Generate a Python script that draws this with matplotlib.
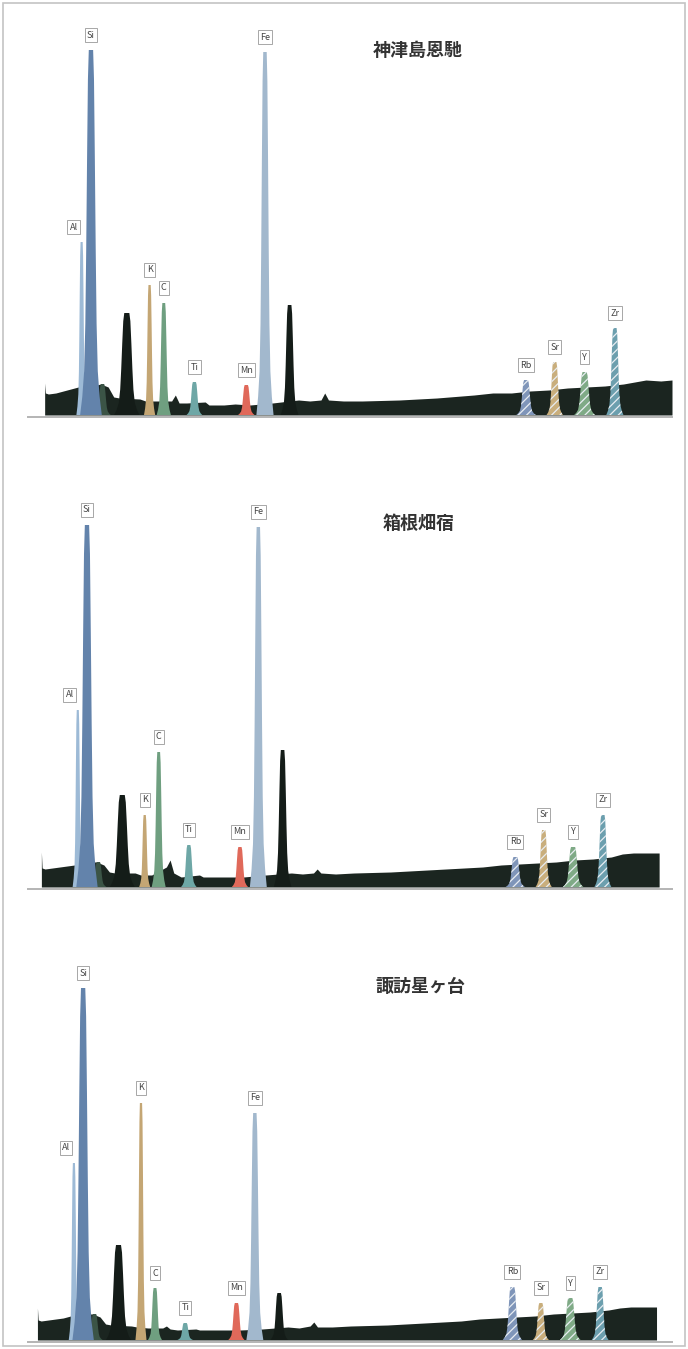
import matplotlib
matplotlib.use('Agg')
import matplotlib.pyplot as plt
from matplotlib.patches import Rectangle

plt.rcParams['font.family'] = ['Noto Sans CJK JP', 'DejaVu Sans']
plt.rcParams['hatch.linewidth'] = 0.9

# --- data (energy in keV, intensity in relative counts) ---
sites = ['神津島恩馳', '箱根畑宿', '諏訪星ヶ台']

peak_names = ['Al', 'Si', 'K', 'C', 'Ti', 'Mn', 'Fe', 'Rb', 'Sr', 'Y', 'Zr']
peak_kev = [1.49, 1.74, 3.31, 3.69, 4.51, 5.90, 6.40, 13.39, 14.16, 14.96, 15.77]
peak_halfwidth = [0.14, 0.29, 0.15, 0.19, 0.21, 0.22, 0.23, 0.26, 0.22, 0.28, 0.23]
heights_kozu = [173, 365, 130, 112, 33, 30, 363, 35, 53, 43, 87]
heights_hakone = [177, 362, 72, 135, 42, 40, 360, 30, 57, 40, 72]
heights_suwa = [177, 352, 237, 52, 17, 37, 227, 53, 37, 42, 53]

# unlabelled dark peaks: Si shoulder, Rh L, Fe Kb
dark_kev = [2.05, 2.70, 7.06]
dark_halfwidth = [0.22, 0.34, 0.24]
dark_kozu = [31, 102, 110]
dark_hakone = [25, 92, 137]
dark_suwa = [26, 95, 47]

bg_kev = [0.5, 0.52, 0.6, 0.8, 1.0, 1.2, 1.4, 1.6, 1.9, 2.0, 2.2, 2.35, 2.5,
          3.05, 3.2, 3.5, 3.9, 4.0, 4.1, 4.3, 4.8, 4.9, 5.3, 5.6, 6.0, 6.6,
          7.3, 7.6, 7.9, 8.0, 8.1, 8.5, 9.0, 10.0, 11.0, 12.0, 12.5, 13.0,
          13.5, 14.0, 14.5, 15.0, 15.5, 16.0, 16.3, 16.6, 17.0, 17.3]
bg_kozu = [32, 22, 21, 22, 24, 26, 28, 30, 30, 31, 28, 18, 17,
           16, 14, 14, 14, 20, 12, 12, 13, 10, 10, 11, 10, 12,
           15, 14, 15, 22, 15, 14, 14, 15, 17, 20, 22, 22,
           24, 25, 27, 28, 29, 31, 33, 35, 34, 35]
bg_hakone = [35, 19, 18, 19, 20, 21, 22, 24, 25, 25, 22, 15, 14,
             14, 12, 12, 20, 27, 14, 10, 12, 10, 10, 10, 10, 12,
             14, 13, 14, 18, 14, 13, 14, 15, 17, 19, 20, 22,
             23, 24, 25, 27, 28, 30, 33, 34, 34, 34]
bg_suwa = [32, 20, 19, 20, 21, 22, 24, 25, 26, 26, 23, 16, 15,
           14, 13, 12, 12, 14, 11, 10, 11, 10, 10, 10, 10, 11,
           13, 12, 14, 18, 13, 13, 14, 15, 17, 19, 21, 22,
           23, 24, 26, 27, 28, 30, 32, 33, 33, 33]

heights = [heights_kozu, heights_hakone, heights_suwa]
darks = [dark_kozu, dark_hakone, dark_suwa]
backgrounds = [bg_kozu, bg_hakone, bg_suwa]

# --- styling / layout ---
peak_colors = ['#9dbad6', '#6383ab', '#c4a674', '#6f9f80', '#6ea7a6', '#e0695a',
               '#a2b8cd', '#7f95b9', '#c9ae7c', '#7faa86', '#6c9fae']
peak_hatch = [None] * 7 + ['////'] * 4
dark_colors = ['#3b5446', '#141c18', '#141c18']
bg_color = '#1b2520'

tmpl_y = [0, 0.05, 0.12, 0.25, 0.45, 0.7, 0.92, 1.0]
tmpl_w = [1.0, 0.8, 0.63, 0.52, 0.44, 0.36, 0.28, 0.2]

W, H = 688, 1349
baselines = [415, 887, 1340]
xlims = [(0.054, 17.30), (0.136, 17.65), (0.244, 17.72)]
title_pos = [(418, 50), (419, 523), (420, 987)]
ax_left, ax_right, ax_h = 28, 672, 380
px = 0.72  # points per pixel at dpi 100


def peak_poly(c, h, w):
    xs = [c - w * f for f in tmpl_w] + [c + w * f for f in tmpl_w[::-1]]
    ys = [h * f for f in tmpl_y] + [h * f for f in tmpl_y[::-1]]
    return xs, ys


fig = plt.figure(figsize=(W / 100, H / 100), dpi=100)
fig.patches.append(Rectangle((3 / W, 3 / H), 1 - 6 / W, 1 - 6 / H, transform=fig.transFigure,
                             fill=False, edgecolor='#c4c4c4', linewidth=1.2))

for i in range(3):
    b = baselines[i]
    ax = fig.add_axes([ax_left / W, 1 - (b + 2) / H, (ax_right - ax_left) / W, ax_h / H])
    ax.set_xlim(*xlims[i])
    ax.set_ylim(-2, ax_h - 2)
    for s in ['left', 'top', 'right']:
        ax.spines[s].set_visible(False)
    ax.spines['bottom'].set_color('#b4b4b4')
    ax.spines['bottom'].set_linewidth(1.4)
    ax.set_xticks([])
    ax.set_yticks([])
    ax.patch.set_alpha(0)

    ax.fill_between(bg_kev, 0, backgrounds[i], color=bg_color, linewidth=0)

    for k in range(len(dark_kev)):
        xs, ys = peak_poly(dark_kev[k], darks[i][k], dark_halfwidth[k])
        ax.fill(xs, ys, color=dark_colors[k], linewidth=0)

    for k, name in enumerate(peak_names):
        h = heights[i][k]
        xs, ys = peak_poly(peak_kev[k], h, peak_halfwidth[k])
        if peak_hatch[k]:
            ax.fill(xs, ys, facecolor=peak_colors[k], edgecolor='#e8edf2',
                    hatch=peak_hatch[k], linewidth=0)
        else:
            ax.fill(xs, ys, color=peak_colors[k], linewidth=0)
        dx = -8 if name == 'Al' else 0
        ax.annotate(name, xy=(peak_kev[k], h), xytext=(dx * px, 15 * px),
                    textcoords='offset points', ha='center', va='center',
                    fontsize=6.5, color='#444444',
                    bbox=dict(boxstyle='square,pad=0.25', fc='white', ec='#999999', lw=0.6))

    tx, ty = title_pos[i]
    fig.text(tx / W, 1 - ty / H, sites[i], ha='center', va='center',
             fontsize=13, fontweight='bold', color='#333333')

fig.savefig('out.png', dpi=100, facecolor='white')
